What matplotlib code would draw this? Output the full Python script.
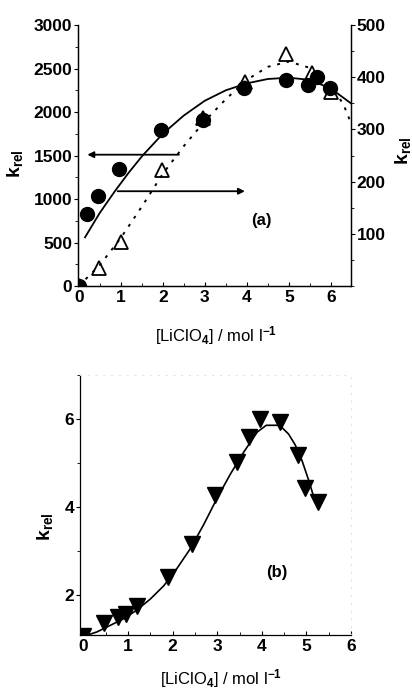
import matplotlib
matplotlib.use('Agg')
from matplotlib import pyplot as plt
from matplotlib.ticker import MultipleLocator
import numpy as np

plt.rcParams['font.family'] = ['Liberation Sans', 'DejaVu Sans']
plt.rcParams['font.weight'] = 'bold'
plt.rcParams['mathtext.fontset'] = 'custom'
plt.rcParams['mathtext.rm'] = 'Liberation Sans'
plt.rcParams['mathtext.bf'] = 'Liberation Sans:bold'
plt.rcParams['mathtext.it'] = 'Liberation Sans:italic'

# panel (a): filled circles, left axis
circ_x = [0.0, 0.2, 0.47, 0.97, 1.97, 2.95, 3.93, 4.93, 5.46, 5.68, 5.98]
circ_y = [0, 830, 1040, 1340, 1790, 1910, 2280, 2370, 2310, 2400, 2275]
# panel (a): open triangles, right axis
tri_x = [0.0, 0.48, 1.0, 1.98, 2.95, 3.95, 4.93, 5.55, 6.0]
tri_y = [0, 35, 85, 223, 322, 390, 444, 408, 372]
# fitted lines of panel (a)
fit_a_x = [0.15, 0.5, 0.86, 1.2, 1.52, 2.0, 2.5, 3.0, 3.5, 4.0, 4.5, 5.0, 5.5, 6.0, 6.48]
fit_a_y = [560, 840, 1090, 1310, 1500, 1750, 1960, 2130, 2250, 2330, 2380, 2395, 2370, 2270, 2100]
dot_a_x = [0.0, 0.5, 1.0, 1.5, 2.0, 2.5, 3.0, 3.5, 4.0, 4.5, 5.0, 5.5, 6.0, 6.3, 6.45]
dot_a_y = [0, 40, 92, 152, 215, 268, 316, 358, 395, 420, 430, 418, 385, 348, 318]

# panel (b): filled down triangles
b_x = [0.0, 0.46, 0.78, 0.95, 1.2, 1.9, 2.43, 2.95, 3.45, 3.72, 3.96, 4.41, 4.82, 4.97, 5.25]
b_y = [1.05, 1.36, 1.48, 1.55, 1.73, 2.39, 3.14, 4.27, 5.02, 5.59, 6.0, 5.93, 5.18, 4.43, 4.11]
fit_b_x = [0.0, 0.3, 0.6, 0.9, 1.2, 1.5, 1.8, 2.1, 2.4, 2.7, 3.0, 3.3, 3.6, 3.9, 4.1, 4.4, 4.6, 4.75, 4.9, 5.05, 5.17]
fit_b_y = [1.05, 1.15, 1.3, 1.45, 1.65, 1.9, 2.2, 2.6, 3.05, 3.6, 4.2, 4.75, 5.25, 5.7, 5.85, 5.85, 5.65, 5.4, 5.05, 4.6, 4.2]

xlabel = r'[LiClO$_\mathbf{4}$] / mol l$^{\mathbf{-1}}$'
ylabel = r'$\mathbf{k}_{\mathrm{rel}}$'

fig = plt.figure(figsize=(4.12, 6.96), dpi=100)

# ---- panel (a)
ax = fig.add_axes([0.189, 0.589, 0.663, 0.375])
ax2 = ax.twinx()

ax.plot(fit_a_x, fit_a_y, color='black', lw=1.3, zorder=3)
ax.plot(circ_x, circ_y, 'o', color='black', ms=10, zorder=4)
ax2.plot(dot_a_x, dot_a_y, color='black', lw=1.4, ls=(0, (1.5, 3.5)), zorder=3)
ax2.plot(tri_x, tri_y, '^', mfc='white', mec='black', mew=1.3, ms=10.5, zorder=2)

ax.set_zorder(ax2.get_zorder() + 1)
ax.patch.set_visible(False)

ax.annotate('', xy=(0.14, 1510), xytext=(2.45, 1510),
            arrowprops=dict(arrowstyle='-|>', color='black', lw=1.3, mutation_scale=9))
ax.annotate('', xy=(4.02, 1090), xytext=(0.86, 1090),
            arrowprops=dict(arrowstyle='-|>', color='black', lw=1.3, mutation_scale=9))
ax.text(4.35, 750, '(a)', fontsize=12, ha='center', va='center')

ax.set_xlim(-0.02, 6.48)
ax.set_ylim(0, 3000)
ax2.set_ylim(0, 500)
ax.xaxis.set_major_locator(MultipleLocator(1))
ax.xaxis.set_minor_locator(MultipleLocator(0.5))
ax.yaxis.set_major_locator(MultipleLocator(500))
ax.yaxis.set_minor_locator(MultipleLocator(250))
ax2.set_yticks([100, 200, 300, 400, 500])
ax2.yaxis.set_minor_locator(MultipleLocator(50))

for a in (ax, ax2):
    a.spines['top'].set_visible(False)
    for s in a.spines.values():
        s.set_linewidth(0.9)
ax.tick_params(axis='x', direction='in', length=3, labelsize=12.5, pad=3)
ax.tick_params(axis='x', which='minor', direction='in', length=2)
ax.tick_params(axis='y', which='both', direction='out', labelsize=12.5, pad=1)
ax.tick_params(axis='y', which='major', length=3)
ax.tick_params(axis='y', which='minor', length=2)
ax2.tick_params(axis='y', which='both', direction='out', labelsize=12.5, pad=1)
ax2.tick_params(axis='y', which='major', length=3)
ax2.tick_params(axis='y', which='minor', length=2)

ax.set_ylabel(ylabel, fontsize=14)
ax.yaxis.set_label_coords(-0.194, 0.47)
ax2.set_ylabel(ylabel, fontsize=14)
ax2.yaxis.set_label_coords(1.154, 0.52)
ax.set_xlabel(xlabel, fontsize=12)
ax.xaxis.set_label_coords(0.505, -0.146)

# ---- panel (b)
bx = fig.add_axes([0.194, 0.0876, 0.658, 0.374])
bx.plot(fit_b_x, fit_b_y, color='black', lw=1.2, zorder=2)
bx.plot(b_x, b_y, 'v', color='black', ms=11.5, zorder=3)
bx.text(4.34, 2.5, '(b)', fontsize=12, ha='center', va='center')

bx.set_xlim(-0.08, 6.0)
bx.set_ylim(1.08, 7.0)
bx.xaxis.set_major_locator(MultipleLocator(1))
bx.xaxis.set_minor_locator(MultipleLocator(0.5))
bx.set_yticks([2, 4, 6])
bx.yaxis.set_minor_locator(MultipleLocator(1))
for name in ('top', 'right'):
    bx.spines[name].set_color('#e4e4e4')
    bx.spines[name].set_linestyle((0, (1, 6)))
for name in ('left', 'bottom'):
    bx.spines[name].set_linewidth(0.9)
bx.tick_params(axis='x', which='both', direction='in', labelsize=12.5, pad=3, top=False)
bx.tick_params(axis='x', which='major', length=3)
bx.tick_params(axis='x', which='minor', length=2)
bx.tick_params(axis='y', which='both', direction='out', labelsize=12.5, pad=1, right=False)
bx.tick_params(axis='y', which='major', length=3)
bx.tick_params(axis='y', which='minor', length=2)

bx.set_ylabel(ylabel, fontsize=14)
bx.yaxis.set_label_coords(-0.092, 0.415)
bx.set_xlabel(xlabel, fontsize=12)
bx.xaxis.set_label_coords(0.52, -0.123)

fig.savefig('out.png', dpi=100)
